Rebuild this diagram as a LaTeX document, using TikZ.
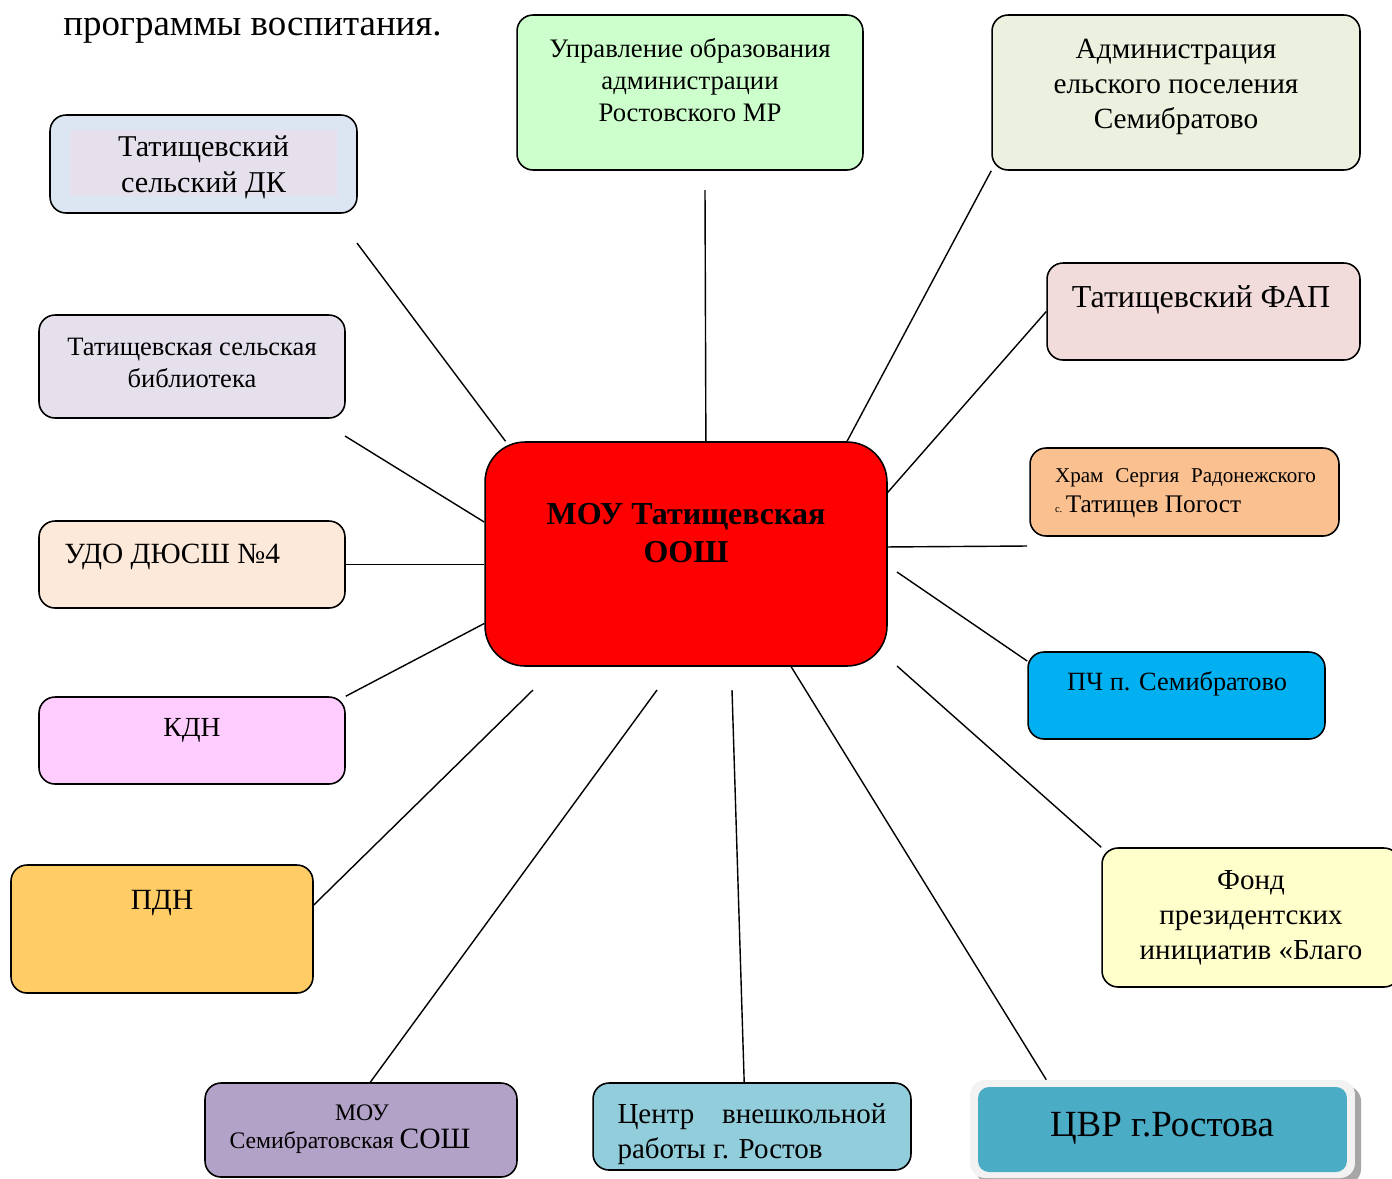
\documentclass[tikz,border=0pt]{standalone}
\usepackage{fontspec}
\setmainfont{Liberation Serif}
\newcommand\fs[1]{\fontsize{#1}{1.2\dimexpr#1pt\relax}\selectfont}
\definecolor{uprgreen}{HTML}{CCFFCC}
\definecolor{admgreen}{HTML}{EBF1DE}
\definecolor{dkblue}{HTML}{DCE6F2}
\definecolor{dkpink}{HTML}{E6E0EC}
\definecolor{faprose}{HTML}{F2DCDB}
\definecolor{liblilac}{HTML}{E5E0EC}
\definecolor{hramorange}{HTML}{FAC090}
\definecolor{udopeach}{HTML}{FDE9D9}
\definecolor{pchblue}{HTML}{00B0F0}
\definecolor{kdnpink}{HTML}{FFCCFF}
\definecolor{pdnyellow}{HTML}{FFCC66}
\definecolor{fondyellow}{HTML}{FFFFCC}
\definecolor{moupurple}{HTML}{B2A2C7}
\definecolor{centrblue}{HTML}{92CDDC}
\definecolor{cvrblue}{HTML}{4BACC6}
\tikzset{
    box/.style={draw, line width=0.9pt, rounded corners=0.32cm, inner sep=0pt},
    link/.style={line width=0.8pt},
}
\begin{document}
\begin{tikzpicture}[x=0.02cm, y=-0.02cm]
        \clip (0,0) rectangle (1392,1178);
        \fill[white] (0,0) rectangle (1392,1178);
        \node[anchor=base west, inner sep=0pt, font=\fs{21}] (title) at (63,35) {программы воспитания.};

        % Kaesten
        \node[box, fill=uprgreen,   minimum width=6.92cm, minimum height=3.10cm] (upr)  at (690,92.5) {};
        \node[box, fill=admgreen,   minimum width=7.36cm, minimum height=3.10cm] (adm)  at (1176,92.5) {};
        \node[box, fill=dkblue,     minimum width=6.14cm, minimum height=1.96cm] (dk)   at (203.5,164) {};
        \node[fill=dkpink, minimum width=5.34cm, minimum height=1.32cm, inner sep=0pt] (dkin) at (203.5,163) {};
        \node[box, fill=faprose,    minimum width=6.26cm, minimum height=1.94cm] (fap)  at (1203.5,311.5) {};
        \node[box, fill=liblilac,   minimum width=6.12cm, minimum height=2.06cm] (lib)  at (192,366.5) {};
        \node[box, fill=hramorange, minimum width=6.18cm, minimum height=1.76cm] (hram) at (1184.5,492) {};
        \node[box, fill=udopeach,   minimum width=6.12cm, minimum height=1.74cm] (udo)  at (192,564.5) {};
        \node[box, fill=red, rounded corners=0.8cm, minimum width=8.04cm, minimum height=4.48cm] (c) at (686,554) {};
        \node[box, fill=pchblue,    minimum width=5.94cm, minimum height=1.74cm] (pch)  at (1176.5,695.5) {};
        \node[box, fill=kdnpink,    minimum width=6.12cm, minimum height=1.74cm] (kdn)  at (192,740.5) {};
        \node[box, fill=pdnyellow,  minimum width=6.04cm, minimum height=2.56cm] (pdn)  at (162,929) {};
        \node[box, fill=fondyellow, minimum width=5.96cm, minimum height=2.78cm] (fond) at (1251,917.5) {};
        \node[box, fill=moupurple,  minimum width=6.24cm, minimum height=1.88cm] (mou)  at (361,1130) {};
        \node[box, fill=centrblue,  minimum width=6.36cm, minimum height=1.74cm] (centr) at (752,1126.5) {};
        \fill[black!35, rounded corners=0.3cm] (976,1086) rectangle (1361,1184);
        \node[fill=black!5, rounded corners=0.3cm, minimum width=7.70cm, minimum height=1.96cm, inner sep=0pt] (cvr) at (1162.5,1129) {};
        \node[fill=cvrblue, rounded corners=0.22cm, minimum width=7.38cm, minimum height=1.70cm, inner sep=0pt] (cvrin) at (1162.5,1129.5) {};

        % Texte
        \node[align=center, font=\fs{15.2}] (upr-t) at (690,80) {Управление образования\\администрации\\Ростовского МР};
        \node[align=center, font=\fs{16.7}] (adm-t) at (1176,87) {Администрация\\ельского поселения\\Семибратово};
        \node[align=center, font=\fs{17.2}] (dk-t) at (203.5,167) {Татищевский\\сельский ДК};
        \node[font=\fs{18.2}] (fap-t) at (1201,300) {Татищевский ФАП};
        \node[align=center, font=\fs{15.1}] (lib-t) at (192,363) {Татищевская сельская\\библиотека};
        \node[align=left, font=\fs{12}, inner sep=0pt] (hram-t) at (1185.5,493) {\makebox[5.22cm][s]{Храм Сергия Радонежского}\\[3pt]{\fontsize{6}{7}\selectfont с.}\,{\fs{14.4}Татищев Погост}};
        \node[anchor=west, inner sep=0pt, font=\fs{16.7}] (udo-t) at (64,557) {УДО ДЮСШ №4};
        \node[align=center, font=\bfseries\fs{18.2}] (c-t) at (686,533) {МОУ Татищевская\\ООШ};
        \node[font=\fs{15}] (pch-t) at (1177,684) {ПЧ п. Семибратово};
        \node[font=\fs{15.7}] (kdn-t) at (192,730) {КДН};
        \node[font=\fs{16.7}] (pdn-t) at (162,903) {ПДН};
        \node[align=center, font=\fs{16.5}] (fond-t) at (1251,918) {Фонд\\президентских\\инициатив «Благо};
        \node[align=center, font=\fs{13.5}] (mou-t) at (350,1129) {\hspace*{0.48cm}МОУ\\Семибратовская {\fs{16.8}СОШ}};
        \node[align=left, font=\fs{16.5}] (centr-t) at (752,1134) {\makebox[5.38cm][s]{Центр внешкольной}\\работы г. Ростов};
        \node[font=\fs{21}] (cvr-t) at (1162,1128) {ЦВР г.Ростова};

        % Verbindungen
        \coordinate (dk-end)   at (357,243);
        \coordinate (upr-end)  at (705,190);
        \coordinate (lib-end)  at (345,436);
        \coordinate (hram-end) at (1027,546);
        \coordinate (pch-end)  at (897,572);
        \coordinate (pdn-end)  at (533,690);
        \coordinate (mou-end)  at (657,690);
        \coordinate (centr-end) at (732,690);
        \coordinate (fond-end) at (897,666);
        \draw[link] (dk-end)   -- (c.148);
        \draw[link] (upr-end)  -- (c.80);
        \draw[link] (adm.south west) -- (c.35);
        \draw[link] (fap.west) -- (c.17);
        \draw[link] (lib-end)  -- (c.171);
        \draw[link] (c.2)      -- (hram-end);
        \draw[link] (udo.east) -- (udo.east -| c.west);
        \draw[link] (pch-end)  -- (pch.167);
        \draw[link] (kdn.north east) -- (c.199);
        \draw[link] (pdn.9)    -- (pdn-end);
        \draw[link] (mou.79)   -- (mou-end);
        \draw[link] (centr-end) -- (centr.100);
        \draw[link] (c.313)    -- (cvr.157);
        \draw[link] (fond-end) -- (fond.north west);
    \end{tikzpicture}
\end{document}
